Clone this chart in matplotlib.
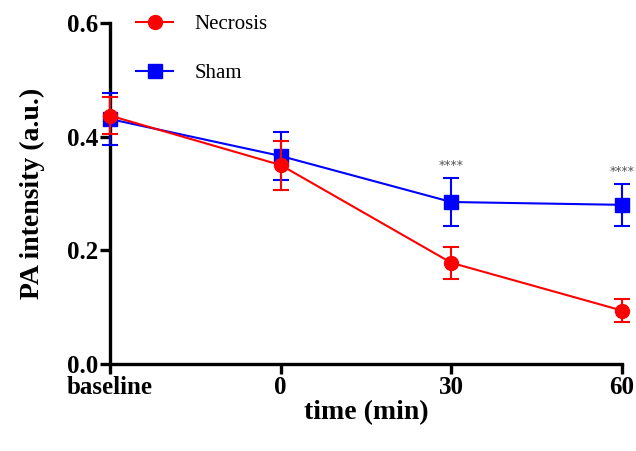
import numpy as np
import matplotlib.pyplot as plt
from matplotlib.lines import Line2D

plt.rcParams["font.family"] = ["Liberation Serif", "DejaVu Serif"]

# datos
time_labels = ["baseline", "0", "30", "60"]
necrosis = [0.437, 0.350, 0.178, 0.094]
necrosis_err = [0.033, 0.043, 0.028, 0.020]
sham = [0.431, 0.366, 0.285, 0.280]
sham_err = [0.046, 0.042, 0.042, 0.037]
sig_labels = ["", "", "****", "****"]
sig_heights = [0, 0, 0.350, 0.338]

x = np.arange(len(time_labels))

fig = plt.figure(figsize=(6.36, 4.51), dpi=100)
ax = fig.add_axes([0.173, 0.193, 0.805, 0.756])

ax.errorbar(x, sham, yerr=sham_err, color="#0000ff", marker="s", markersize=9.5,
            linewidth=1.5, capsize=6, capthick=1.5, elinewidth=1.5,
            clip_on=False, zorder=3)
ax.errorbar(x, necrosis, yerr=necrosis_err, color="#ff0000", marker="o", markersize=10,
            linewidth=1.5, capsize=6, capthick=1.5, elinewidth=1.5,
            clip_on=False, zorder=4)

for xi, s, h in zip(x, sig_labels, sig_heights):
    if s:
        ax.text(xi, h, s, ha="center", va="center", fontsize=9, color="#555555",
                family="DejaVu Sans")

ax.set_xlim(0, 3)
ax.set_ylim(0, 0.6)
ax.set_yticks([0.0, 0.2, 0.4, 0.6])
ax.set_yticklabels(["0.0", "0.2", "0.4", "0.6"])
ax.set_xticks(x)
ax.set_xticklabels(time_labels)

for lab in ax.get_xticklabels() + ax.get_yticklabels():
    lab.set_fontweight("bold")
    lab.set_fontsize(18)

ax.spines["top"].set_visible(False)
ax.spines["right"].set_visible(False)
ax.spines["left"].set_linewidth(2.4)
ax.spines["bottom"].set_linewidth(2.4)
ax.tick_params(width=2.4, length=7, pad=1.5)

ax.set_xlabel("time (min)", fontsize=20, fontweight="bold", labelpad=1)
ax.set_ylabel("PA intensity (a.u.)", fontsize=20, fontweight="bold", labelpad=16)

# leyenda sin barras de error
h_nec = Line2D([], [], color="#ff0000", marker="o", markersize=10, linewidth=1.5)
h_sham = Line2D([], [], color="#0000ff", marker="s", markersize=9.5, linewidth=1.5)
ax.legend([h_nec, h_sham], ["Necrosis", "Sham"], loc="upper left",
          bbox_to_anchor=(0.014, 1.08), frameon=False, fontsize=15,
          handlelength=1.8, labelspacing=1.41, handletextpad=1.0)

plt.savefig("out.png", dpi=100)
